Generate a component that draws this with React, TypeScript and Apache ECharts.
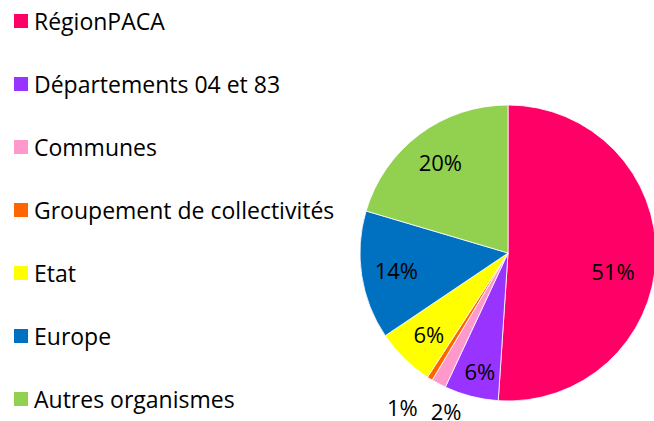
import React, { useEffect, useRef } from "react";
import * as echarts from "echarts";

const categories = [
  "RégionPACA",
  "Départements 04 et 83",
  "Communes",
  "Groupement de collectivités",
  "Etat",
  "Europe",
  "Autres organismes",
];
const values = [51.0, 5.9, 1.6, 0.6, 6.4, 14.0, 20.4];
const colors = ["#FF0066", "#9933FF", "#FF99CC", "#FF6600", "#FFFF00", "#0070C0", "#92D050"];

const FONT = "'Open Sans', 'DejaVu Sans', sans-serif";

export default function App() {
  const ref = useRef<HTMLDivElement>(null);
  useEffect(() => {
    if (!ref.current) return;
    const chart = echarts.init(ref.current, null, { renderer: "svg" });
    const total = values.reduce((a, b) => a + b, 0);
    const pct = (v: number) => Math.round((v / total) * 100) + "%";
    const center = [508, 253];
    const R = 148;
    chart.setOption({
      animation: false,
      backgroundColor: "#ffffff",
      legend: {
        orient: "vertical",
        left: 12,
        top: 9,
        height: 410,
        padding: 0,
        icon: "rect",
        itemWidth: 16,
        itemHeight: 16,
        itemGap: 39,
        selectedMode: false,
        textStyle: { fontFamily: FONT, fontSize: 23, lineHeight: 24, color: "#000" },
        data: categories.map((name, i) => ({ name, itemStyle: { color: colors[i] } })),
      },
      series: [
        {
          type: "pie",
          center,
          radius: R,
          startAngle: 90,
          clockwise: true,
          label: { show: false },
          labelLine: { show: false },
          itemStyle: { borderColor: "#ffffff", borderWidth: 0.8 },
          data: categories.map((name, i) => ({
            name,
            value: values[i],
            itemStyle: { color: colors[i] },
          })),
        },
        {
          type: "pie",
          center,
          radius: [72, R],
          startAngle: 90,
          clockwise: true,
          silent: true,
          legendHoverLink: false,
          itemStyle: { color: "rgba(0,0,0,0)", borderWidth: 0 },
          label: {
            show: true,
            position: "inside",
            color: "#000",
            fontFamily: FONT,
            fontSize: 22,
            formatter: (p: any) => pct(p.value),
          },
          labelLine: { show: false },
          labelLayout: (p: any) => {
            if (p.dataIndex === 3) return { dx: -46, dy: 58 };
            if (p.dataIndex === 2) return { dx: -9, dy: 58 };
            if (p.dataIndex === 0) return { dx: -8, dy: 14 };
            if (p.dataIndex === 1) return { dy: 9 };
            return {};
          },
          data: categories.map((name, i) => ({ name, value: values[i] })),
        },
      ],
    });
    return () => chart.dispose();
  }, []);
  return (
    <div
      ref={ref}
      style={{ position: "fixed", left: 0, top: 0, width: 654, height: 421, background: "#fff" }}
    />
  );
}
